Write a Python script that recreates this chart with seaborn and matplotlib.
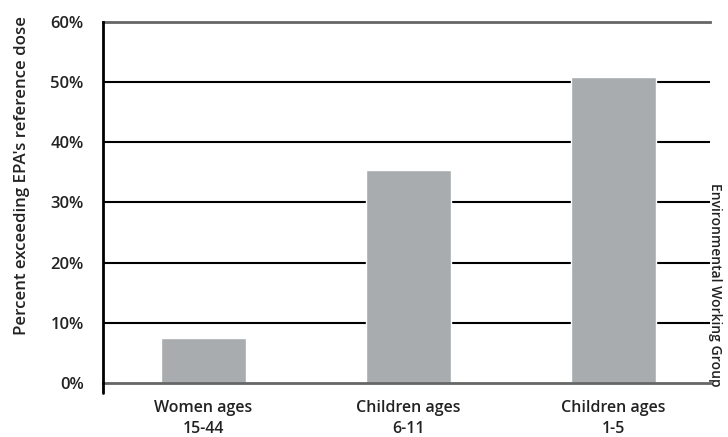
import numpy as np
import pandas as pd
import seaborn as sns
import matplotlib.pyplot as plt

# --- data ---
groups = ['Women ages\n15-44', 'Children ages\n6-11', 'Children ages\n1-5']
pct_exceeding = [7.5, 35.4, 50.8]
y_ticks = [0, 10, 20, 30, 40, 50, 60]
y_tick_labels = ['0%', '10%', '20%', '30%', '40%', '50%', '60%']

df = pd.DataFrame({'group': groups, 'pct': pct_exceeding})

sns.set_style('white')
plt.rcParams['font.family'] = ['Open Sans', 'DejaVu Sans']

fig = plt.figure(figsize=(7.28, 4.37), dpi=100)
ax = fig.add_axes([0.1415, 0.1236, 0.8335, 0.8261])

# gridlines behind bars
for t in y_ticks[1:-1]:
    ax.axhline(t, color='black', lw=1.5, zorder=0)

sns.barplot(data=df, x='group', y='pct', color='#a9acae', width=0.415,
            saturation=1, ax=ax, zorder=2)

ax.set_xlim(-0.49, 2.47)
ax.set_ylim(0, 60)
ax.set_yticks(y_ticks)
ax.set_yticklabels(y_tick_labels, fontsize=12, fontweight='semibold', color='#222222')
ax.tick_params(axis='y', length=8, width=1.5, color='black', pad=6, direction='out')
ax.tick_params(axis='x', length=0, pad=12)
for lbl in ax.get_xticklabels():
    lbl.set_fontsize(11.5)
    lbl.set_fontweight('semibold')
    lbl.set_color('#222222')
    lbl.set_linespacing(1.45)

ax.spines['right'].set_visible(False)
ax.spines['top'].set_color('#666666')
ax.spines['top'].set_linewidth(2)
ax.spines['bottom'].set_color('#666666')
ax.spines['bottom'].set_linewidth(2)
ax.spines['left'].set_color('black')
ax.spines['left'].set_linewidth(2)
ax.spines['left'].set_zorder(3)

# y axis line pokes a little below the baseline
ax.plot([-0.49, -0.49], [0, -1.6], color='black', lw=2, clip_on=False, zorder=3)

ax.set_xlabel('')
ax.set_ylabel("Percent exceeding EPA's reference dose", fontsize=12.2, fontweight='semibold',
              color='#222222')
ax.yaxis.set_label_coords(-0.12, 0.575)

fig.text(0.982, 0.116, 'Environmental Working Group', rotation=-90, fontsize=10,
         fontweight='semibold', ha='center', va='bottom', color='#222222')

fig.savefig('out.png', dpi=100)
